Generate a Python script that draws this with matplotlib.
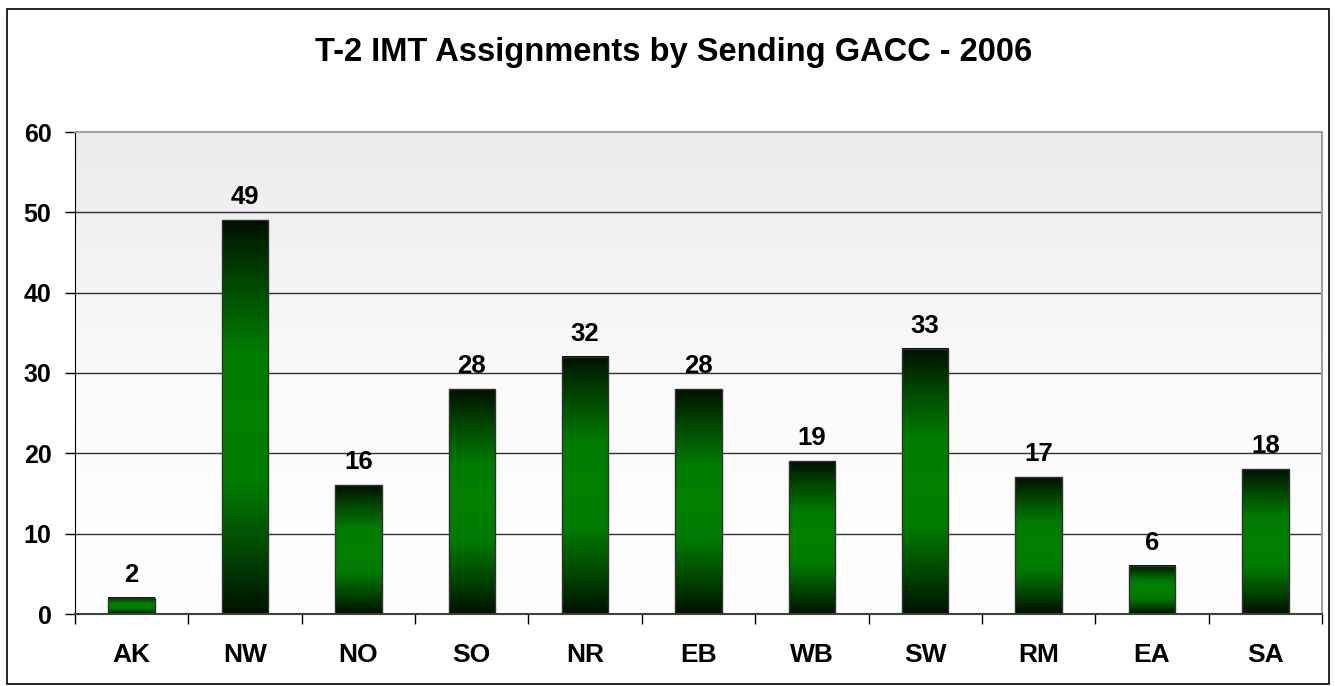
import matplotlib
matplotlib.use("Agg")
import matplotlib.pyplot as plt
import numpy as np
from matplotlib.colors import LinearSegmentedColormap
from matplotlib.patches import Rectangle

categories = ["AK", "NW", "NO", "SO", "NR", "EB", "WB", "SW", "RM", "EA", "SA"]
values = [2, 49, 16, 28, 32, 28, 19, 33, 17, 6, 18]
title = "T-2 IMT Assignments by Sending GACC - 2006"
yticks = [0, 10, 20, 30, 40, 50, 60]

plt.rcParams['font.family'] = ['Liberation Sans', 'DejaVu Sans']

W, H = 1335, 686
fig = plt.figure(figsize=(W / 100, H / 100), dpi=100)
ax = fig.add_axes([75 / W, (H - 614) / H, (1322 - 75) / W, (614 - 132) / H])

n = len(categories)
ax.set_xlim(-0.5, n - 0.5)
ax.set_ylim(0, 60)

# background gradient
bg = LinearSegmentedColormap.from_list("bg", ["#ffffff", "#fafafa", "#ebebeb"])
grad = np.linspace(0, 1, 256).reshape(-1, 1)
ax.imshow(grad, cmap=bg, origin="lower", aspect="auto",
          extent=(-0.5, n - 0.5, 0, 60), zorder=0)

# gridlines
for yv in yticks[1:-1]:
    ax.axhline(yv, color="#303030", lw=1.0, zorder=1)

# bars with vertical gradient
barcm = LinearSegmentedColormap.from_list(
    "bar", ["#001200", "#004a00", "#007c00", "#008000", "#007c00", "#004a00", "#001200"])
bw = 0.41
for i, v in enumerate(values):
    ax.imshow(grad, cmap=barcm, origin="lower", aspect="auto",
              extent=(i - bw / 2, i + bw / 2, 0, v), zorder=2)
    ax.add_patch(Rectangle((i - bw / 2, 0), bw, v, fill=False,
                           edgecolor="#303030", lw=1.0, zorder=3))
    ax.annotate(str(v), (i, v), xytext=(0, 11.5), textcoords="offset points",
                ha="center", va="baseline", fontsize=18.5, fontweight="bold",
                color="black", zorder=4)

ax.set_xlim(-0.5, n - 0.5)
ax.set_ylim(0, 60)

# ticks
ax.set_yticks(yticks)
ax.set_yticklabels([str(t) for t in yticks], fontsize=18, fontweight="bold")
ax.tick_params(axis="y", direction="out", length=7, width=1, pad=10, color="black")

ax.set_xticks(np.arange(-0.5, n, 1.0))
ax.set_xticklabels([])
ax.tick_params(axis="x", which="major", direction="out", length=7, width=1, color="black")
ax.set_xticks(np.arange(n), minor=True)
ax.set_xticklabels(categories, minor=True, fontsize=19, fontweight="bold")
ax.tick_params(axis="x", which="minor", length=0, pad=21)

for s in ["top", "right"]:
    ax.spines[s].set_color("#a0a0a0")
    ax.spines[s].set_linewidth(1.5)
ax.spines["left"].set_color("black")
ax.spines["bottom"].set_color("#404040")
ax.spines["bottom"].set_linewidth(1.5)

fig.text(674 / W, 1 - 52 / H, title, ha="center", va="center",
         fontsize=23.5, fontweight="bold")

# figure border
fig.add_artist(Rectangle((7 / W, 2 / H), (1329 - 7) / W, (684 - 9) / H,
                         transform=fig.transFigure, fill=False,
                         edgecolor="black", lw=1.2))

fig.savefig("out.png", dpi=100)
